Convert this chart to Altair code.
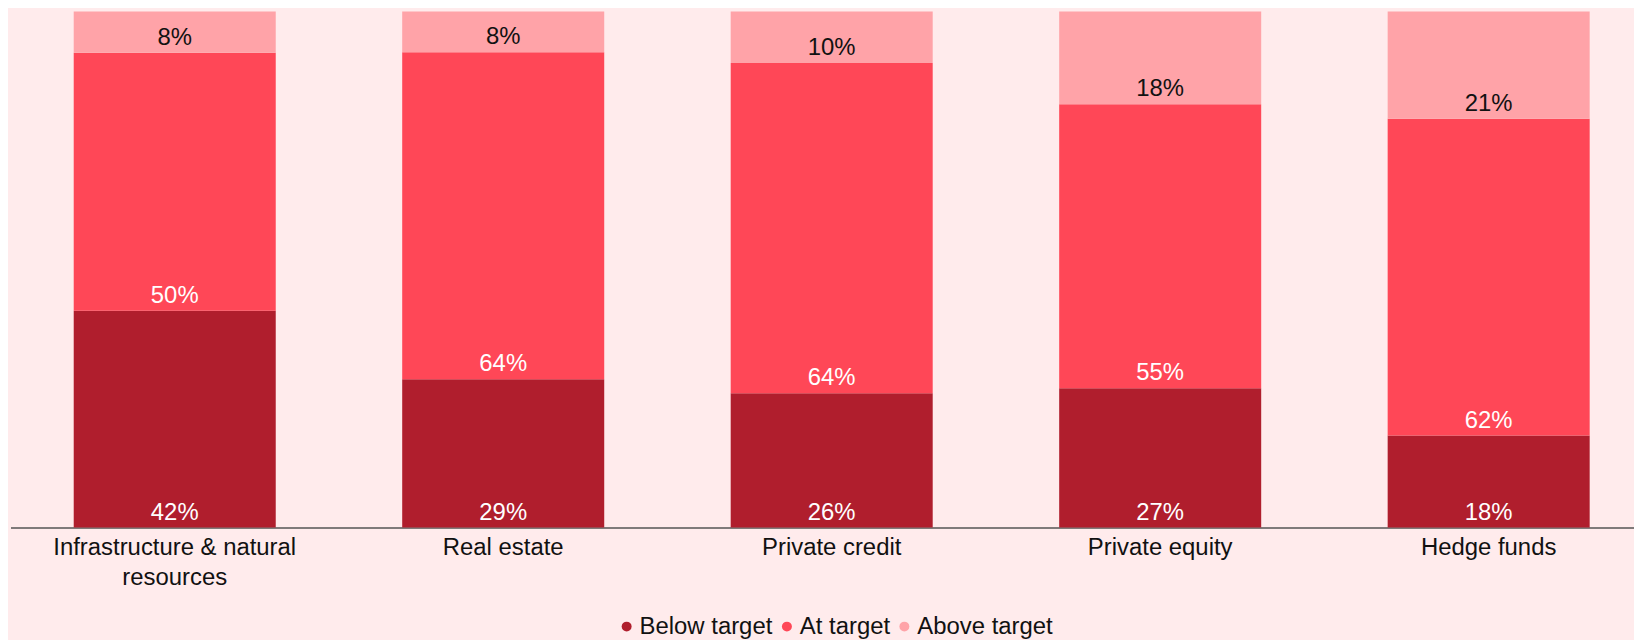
import altair as alt
import pandas as pd

categories = ["Infrastructure & natural resources", "Real estate", "Private credit", "Private equity", "Hedge funds"]
statuses = ["Below target", "At target", "Above target"]
below = [42, 29, 26, 27, 18]
at_target = [50, 64, 64, 55, 62]
above = [8, 8, 10, 18, 21]
colors = ["#B01E2D", "#FF4757", "#FFA3A8"]

rows = []
for i, c in enumerate(categories):
    for j, (s, vals) in enumerate(zip(statuses, [below, at_target, above])):
        rows.append({"category": c, "status": s, "order": j, "value": vals[i]})
df = pd.DataFrame(rows)

FONT = "Liberation Sans"

base = alt.Chart(df).transform_stack(
    stack="value", as_=["y0", "y1"], groupby=["category"], offset="normalize",
    sort=[alt.SortField("order", order="ascending")]
).transform_calculate(label="datum.value + '%'")

x = alt.X("category:N", sort=categories, title=None,
          scale=alt.Scale(range=[0, 1650], paddingInner=0.385, paddingOuter=0.1925),
          axis=alt.Axis(labelAngle=0, ticks=False, tickSize=0, domainColor="#555555", domainWidth=1.5,
                        labelFontSize=24, labelFont=FONT, labelColor="#111111", labelPadding=8,
                        labelLineHeight=30, labelLimit=500,
                        labelExpr="datum.label == 'Infrastructure & natural resources' ? ['Infrastructure & natural', 'resources'] : datum.label"))
yscale = alt.Scale(domain=[0, 1], nice=False, zero=True)

bars = base.mark_bar().encode(
    x=x,
    y=alt.Y("y0:Q", scale=yscale, axis=None),
    y2="y1:Q",
    color=alt.Color("status:N", sort=statuses, scale=alt.Scale(domain=statuses, range=colors),
                    legend=alt.Legend(title=None, orient="none", direction="horizontal",
                                      legendX=607, legendY=606, symbolType="circle", symbolSize=100,
                                      symbolStrokeWidth=0, labelFontSize=24, labelFont=FONT,
                                      labelColor="#111111", labelOffset=1, columnPadding=2,
                                      padding=0)),
    order=alt.Order("order:Q"),
)

texts = base.mark_text(baseline="alphabetic", dy=-8, fontSize=24, font=FONT).encode(
    x=alt.X("category:N", sort=categories),
    y=alt.Y("y0:Q", scale=yscale),
    text="label:N",
    color=alt.condition(alt.datum.status == "Above target", alt.value("#111111"), alt.value("#FFFFFF")),
)

chart = alt.layer(bars, texts).properties(
    width=1631, height=518.5,
    padding={"left": 2.5, "top": 2, "right": 0, "bottom": 112},
    autosize=alt.AutoSizeParams(type="none"),
    background="#FFEBEC",
).configure_view(stroke=None).configure_axis(grid=False)

chart.save("out.html", embed_options={"renderer": "svg", "actions": False})
